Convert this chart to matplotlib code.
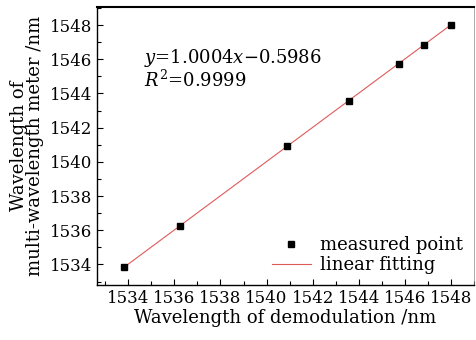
import matplotlib.pyplot as plt
from matplotlib.ticker import MultipleLocator
import numpy as np

plt.rcParams["font.family"] = "DejaVu Serif"
plt.rcParams["mathtext.fontset"] = "dejavuserif"

demod = [1533.83, 1536.23, 1540.88, 1543.56, 1545.73, 1546.84, 1548.00]
meter = [1533.85, 1536.25, 1540.90, 1543.56, 1545.73, 1546.84, 1548.00]
slope, intercept = 1.0004, -0.5986

fig = plt.figure(figsize=(4.76, 3.40), dpi=100)
ax = fig.add_axes([0.204, 0.162, 0.792, 0.817])

fit_x = np.array([min(demod), max(demod)])
ax.plot(fit_x, slope * fit_x + intercept, color="#e05a5a", linewidth=0.8,
        label="linear fitting")
ax.plot(demod, meter, linestyle="none", marker="s", markersize=5,
        color="black", label="measured point")

ax.set_xlim(1532.65, 1549.0)
ax.set_ylim(1532.8, 1549.05)
ax.set_xticks(range(1534, 1549, 2))
ax.set_yticks(range(1534, 1549, 2))
ax.xaxis.set_minor_locator(MultipleLocator(1))
ax.yaxis.set_minor_locator(MultipleLocator(1))
ax.tick_params(which="major", direction="in", length=4, width=0.8, labelsize=12)
ax.tick_params(which="minor", direction="in", length=3, width=0.8)
ax.tick_params(axis="x", pad=4)

ax.spines["top"].set_linewidth(1.5)
ax.spines["right"].set_linewidth(0.5)
ax.spines["right"].set_color("#888888")
ax.spines["left"].set_linewidth(1.0)
ax.spines["bottom"].set_linewidth(1.0)

ax.set_xlabel("Wavelength of demodulation /nm", fontsize=13, labelpad=1)
ax.set_ylabel("Wavelength of\nmulti-wavelength meter /nm", fontsize=13,
              labelpad=4, linespacing=0.9)

ax.text(0.125, 0.855, "$y$=1.0004$x$$-$0.5986\n$R^2$=0.9999",
        transform=ax.transAxes, fontsize=13, va="top", linespacing=1.0)

handles, labels = ax.get_legend_handles_labels()
ax.legend(handles[::-1], labels[::-1], loc="lower right", frameon=False,
          fontsize=13, handlelength=2.2, handletextpad=0.5, borderaxespad=0.2,
          labelspacing=0.1)

fig.savefig("out.png", dpi=100)
